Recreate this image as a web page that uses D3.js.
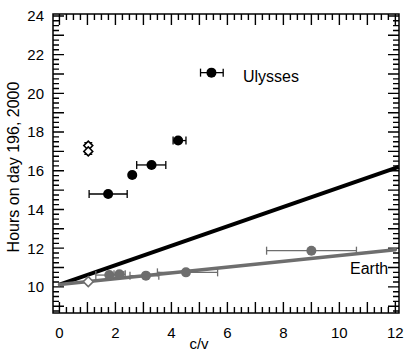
<!DOCTYPE html>
<html><head><meta charset="utf-8">
<script src="https://cdn.jsdelivr.net/npm/d3@7"></script>
<style>body{margin:0;background:#fff}svg{display:block;font-family:"Liberation Sans",Arial,sans-serif}</style>
</head><body><svg id="c" width="404" height="352"></svg>
<script>
// Ulysses points: c/v, hours, x-error low/high
const ulyX = [1.74, 2.60, 3.29, 4.24, 5.43];
const ulyY = [14.80, 15.78, 16.30, 17.56, 21.07];
const ulyXlo = [1.06, 2.52, 2.76, 4.06, 5.04];
const ulyXhi = [2.42, 2.68, 3.80, 4.52, 5.85];
// Ulysses open points
const ulyOpenX = [1.03, 1.03];
const ulyOpenY = [17.30, 17.00];
const ulyOpenYlo = 16.85, ulyOpenYhi = 17.45;
// Earth points
const earthX = [1.78, 2.14, 3.09, 4.52, 9.0];
const earthY = [10.61, 10.65, 10.58, 10.75, 11.87];
const earthXlo = [1.30, 1.95, 2.52, 3.50, 7.40];
const earthXhi = [2.30, 2.35, 3.55, 5.65, 10.61];
const earthOpenX = [1.03];
const earthOpenY = [10.27];
// Fit lines (endpoints)
const ulyLineX = [0, 12.12];
const ulyLineY = [10.12, 16.2];
const earthLineX = [0, 12];
const earthLineY = [10.12, 11.92];
// ticks
const xTickLabels = [0, 2, 4, 6, 8, 10, 12];
const yTickLabels = [10, 12, 14, 16, 18, 20, 22, 24];

const svg = d3.select("#c");
const L = 53, R = 399, T = 14, B = 313;
const x = d3.scaleLinear().domain([-0.23, 12.13]).range([L, R]);
const y = d3.scaleLinear().domain([8.65, 24.1]).range([B, T]);

// frame
svg.append("rect").attr("x", L).attr("y", T).attr("width", R - L).attr("height", B - T)
  .attr("fill", "none").attr("stroke", "#000").attr("stroke-width", 1.5);

// ticks (inward on all four sides)
const xTicks = d3.range(0, 49).map(i => i * 0.25);
const yTicks = d3.range(0, 62).map(i => 8.75 + i * 0.25);
const tlen = d => (Math.abs(d - Math.round(d)) < 1e-6 ? 11 : 6);
const tickPath = [];
xTicks.forEach(d => {
  tickPath.push(`M${x(d)},${B}V${B - tlen(d)}`);
  tickPath.push(`M${x(d)},${T}V${T + tlen(d)}`);
});
yTicks.forEach(d => {
  tickPath.push(`M${L},${y(d)}H${L + tlen(d)}`);
  tickPath.push(`M${R},${y(d)}H${R - tlen(d)}`);
});
svg.append("path").attr("d", tickPath.join("")).attr("fill", "none")
  .attr("stroke", "#000").attr("stroke-width", 1.4);

// tick labels
svg.append("g").selectAll("text").data(xTickLabels).join("text")
  .attr("x", d => x(d)).attr("y", 338).attr("text-anchor", "middle")
  .attr("font-size", 15).text(d => d);
svg.append("g").selectAll("text").data(yTickLabels).join("text")
  .attr("x", 44).attr("y", d => y(d)).attr("dy", "0.36em").attr("text-anchor", "end")
  .attr("font-size", 15).text(d => d);

// axis titles
svg.append("text").attr("x", 199).attr("y", 349).attr("text-anchor", "middle")
  .attr("font-size", 15).text("c/v");
svg.append("text").attr("transform", "translate(19,167) rotate(-90)")
  .attr("text-anchor", "middle").attr("font-size", 16).text("Hours on day 196, 2000");

const line = d3.line().x(d => x(d[0])).y(d => y(d[1]));
// fit lines
svg.append("path").attr("d", line(ulyLineX.map((v, i) => [v, ulyLineY[i]])))
  .attr("stroke", "#000").attr("stroke-width", 4).attr("fill", "none");
svg.append("path").attr("d", line(earthLineX.map((v, i) => [v, earthLineY[i]])))
  .attr("stroke", "#6e6e6e").attr("stroke-width", 3.5).attr("fill", "none").attr("stroke-linecap", "round");

function hbar(gr, xl, xh, yy, col) {
  gr.append("line").attr("x1", x(xl)).attr("x2", x(xh)).attr("y1", y(yy)).attr("y2", y(yy)).attr("stroke", col).attr("stroke-width", 1.3);
  [xl, xh].forEach(v => gr.append("line").attr("x1", x(v)).attr("x2", x(v)).attr("y1", y(yy) - 4).attr("y2", y(yy) + 4).attr("stroke", col).attr("stroke-width", 1.3));
}
const dia = (r) => `M0,${-r}L${r},0L0,${r}L${-r},0Z`;

// Earth points
const ge = svg.append("g");
earthX.forEach((v, i) => hbar(ge, earthXlo[i], earthXhi[i], earthY[i], "#6e6e6e"));
ge.selectAll("circle").data(earthX).join("circle")
  .attr("cx", d => x(d)).attr("cy", (d, i) => y(earthY[i])).attr("r", 5).attr("fill", "#6e6e6e");
earthOpenX.forEach((v, i) => ge.append("path").attr("d", dia(5))
  .attr("transform", `translate(${x(v)},${y(earthOpenY[i])})`)
  .attr("fill", "#fff").attr("stroke", "#6e6e6e").attr("stroke-width", 1.5));

// Ulysses points
const gu = svg.append("g");
ulyX.forEach((v, i) => hbar(gu, ulyXlo[i], ulyXhi[i], ulyY[i], "#000"));
gu.append("rect").attr("x", x(2.52)).attr("y", y(15.95)).attr("width", x(2.68) - x(2.52))
  .attr("height", y(15.61) - y(15.95)).attr("fill", "none").attr("stroke", "#000").attr("stroke-width", 1.2);
gu.selectAll("circle").data(ulyX).join("circle")
  .attr("cx", d => x(d)).attr("cy", (d, i) => y(ulyY[i])).attr("r", 5).attr("fill", "#000");
const ox = x(ulyOpenX[0]);
gu.append("line").attr("x1", ox).attr("x2", ox).attr("y1", y(ulyOpenYlo)).attr("y2", y(ulyOpenYhi)).attr("stroke", "#000");
[ulyOpenYlo, ulyOpenYhi].forEach(v => gu.append("line").attr("x1", ox - 4).attr("x2", ox + 4).attr("y1", y(v)).attr("y2", y(v)).attr("stroke", "#000").attr("stroke-width", 1.3));
ulyOpenX.forEach((v, i) => gu.append("path").attr("d", dia(4.5))
  .attr("transform", `translate(${x(v)},${y(ulyOpenY[i])})`)
  .attr("fill", "#fff").attr("stroke", "#000").attr("stroke-width", 1.5));

// labels
svg.append("text").attr("x", 243).attr("y", 82).attr("font-size", 16).text("Ulysses");
svg.append("text").attr("x", 350).attr("y", 274).attr("font-size", 16).text("Earth");
</script></body></html>
